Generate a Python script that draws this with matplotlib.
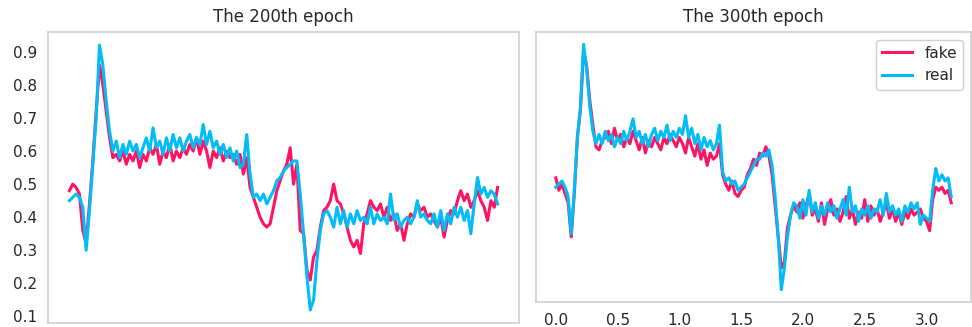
import matplotlib
matplotlib.use('Agg')
import matplotlib.pyplot as plt
import numpy as np

fake_200 = [0.48, 0.50, 0.49, 0.47, 0.36, 0.32, 0.44, 0.57, 0.72, 0.86, 0.80, 0.72, 0.64, 0.58,
            0.59, 0.57, 0.60, 0.56, 0.59, 0.57, 0.60, 0.55, 0.59, 0.57, 0.61, 0.59, 0.62, 0.56,
            0.60, 0.58, 0.62, 0.57, 0.60, 0.58, 0.61, 0.59, 0.62, 0.60, 0.64, 0.59, 0.63, 0.60,
            0.55, 0.60, 0.58, 0.61, 0.57, 0.60, 0.58, 0.59, 0.56, 0.59, 0.53, 0.58,
            0.49, 0.46, 0.43, 0.40, 0.38, 0.37, 0.38, 0.43, 0.48, 0.51, 0.54, 0.56, 0.61, 0.50,
            0.56, 0.36, 0.35, 0.24, 0.21, 0.28, 0.30, 0.37, 0.42, 0.43,
            0.45, 0.50, 0.45, 0.44, 0.41, 0.37, 0.33, 0.31, 0.33, 0.29, 0.38, 0.41, 0.45, 0.43,
            0.42, 0.44, 0.40, 0.43, 0.39, 0.41, 0.36, 0.38, 0.33, 0.38, 0.41, 0.40, 0.44, 0.42,
            0.43, 0.40, 0.41, 0.39, 0.37, 0.40, 0.34, 0.39, 0.42, 0.41, 0.45, 0.48, 0.45, 0.47,
            0.43, 0.45, 0.48, 0.45, 0.43, 0.39, 0.45, 0.43, 0.49]
real_200 = [0.45, 0.46, 0.47, 0.46, 0.43, 0.30, 0.42, 0.56, 0.70, 0.92, 0.86, 0.75, 0.66, 0.60,
            0.63, 0.58, 0.62, 0.59, 0.63, 0.60, 0.62, 0.58, 0.61, 0.64, 0.60, 0.67, 0.61, 0.63,
            0.59, 0.64, 0.60, 0.65, 0.61, 0.64, 0.60, 0.63, 0.65, 0.61, 0.64, 0.62, 0.68, 0.62,
            0.66, 0.61, 0.63, 0.59, 0.62, 0.58, 0.61, 0.57, 0.60, 0.55, 0.56, 0.65,
            0.53, 0.46, 0.47, 0.45, 0.47, 0.44, 0.46, 0.48, 0.51, 0.52, 0.54, 0.55, 0.56, 0.57,
            0.57, 0.47, 0.35, 0.22, 0.12, 0.15, 0.27, 0.36, 0.41, 0.42,
            0.40, 0.37, 0.43, 0.38, 0.42, 0.37, 0.41, 0.38, 0.42, 0.39, 0.40, 0.38, 0.43, 0.38,
            0.41, 0.39, 0.40, 0.38, 0.47, 0.39, 0.41, 0.37, 0.39, 0.40, 0.38, 0.40, 0.45, 0.40,
            0.41, 0.39, 0.38, 0.41, 0.37, 0.42, 0.36, 0.41, 0.38, 0.43, 0.40, 0.43, 0.39, 0.42,
            0.35, 0.44, 0.52, 0.47, 0.49, 0.46, 0.48, 0.47, 0.44]

fake_300 = [0.49, 0.45, 0.47, 0.44, 0.41, 0.30, 0.44, 0.62, 0.71, 0.90, 0.85, 0.74, 0.66, 0.59,
            0.58, 0.61, 0.62, 0.64, 0.60, 0.65, 0.61, 0.63, 0.59, 0.62, 0.60, 0.64, 0.61, 0.58,
            0.62, 0.57, 0.61, 0.59, 0.62, 0.60, 0.58, 0.62, 0.60, 0.63, 0.61, 0.59, 0.62, 0.60,
            0.57, 0.62, 0.59, 0.56, 0.60, 0.55, 0.58, 0.53, 0.57, 0.55, 0.56, 0.60,
            0.50, 0.47, 0.45, 0.48, 0.44, 0.43, 0.45, 0.46, 0.50, 0.52, 0.55, 0.53, 0.57, 0.56,
            0.59, 0.56, 0.50, 0.40, 0.30, 0.20, 0.22, 0.33, 0.37, 0.40,
            0.38, 0.41, 0.36, 0.40, 0.44, 0.37, 0.39, 0.35, 0.41, 0.34, 0.39, 0.42, 0.37, 0.39,
            0.35, 0.38, 0.43, 0.36, 0.39, 0.34, 0.38, 0.36, 0.42, 0.35, 0.40, 0.37, 0.39, 0.35,
            0.38, 0.41, 0.36, 0.39, 0.35, 0.38, 0.34, 0.38, 0.36, 0.39, 0.37, 0.38, 0.39, 0.36,
            0.35, 0.32, 0.42, 0.46, 0.45, 0.46, 0.44, 0.45, 0.41]
real_300 = [0.46, 0.47, 0.48, 0.46, 0.43, 0.31, 0.45, 0.62, 0.72, 0.92, 0.84, 0.72, 0.64, 0.60,
            0.63, 0.60, 0.64, 0.61, 0.63, 0.59, 0.62, 0.60, 0.64, 0.61, 0.64, 0.68, 0.62, 0.64,
            0.60, 0.63, 0.59, 0.63, 0.65, 0.61, 0.64, 0.62, 0.66, 0.61, 0.64, 0.62, 0.65, 0.63,
            0.69, 0.62, 0.65, 0.60, 0.63, 0.58, 0.62, 0.59, 0.61, 0.58, 0.60, 0.66,
            0.51, 0.48, 0.49, 0.47, 0.48, 0.45, 0.46, 0.47, 0.49, 0.51, 0.53, 0.55, 0.55, 0.57,
            0.56, 0.58, 0.53, 0.43, 0.30, 0.13, 0.20, 0.30, 0.37, 0.41,
            0.40, 0.36, 0.42, 0.37, 0.45, 0.38, 0.41, 0.36, 0.40, 0.37, 0.41, 0.38, 0.40, 0.36,
            0.39, 0.42, 0.37, 0.46, 0.38, 0.40, 0.35, 0.39, 0.37, 0.40, 0.36, 0.39, 0.38, 0.42,
            0.37, 0.44, 0.38, 0.40, 0.37, 0.39, 0.35, 0.40, 0.38, 0.41, 0.39, 0.41, 0.34, 0.37,
            0.36, 0.35, 0.45, 0.52, 0.48, 0.50, 0.48, 0.49, 0.43]

titles = ['The 200th epoch', 'The 300th epoch']
x_ticks = [0.0, 0.5, 1.0, 1.5, 2.0, 2.5, 3.0]
y_ticks = [0.1, 0.2, 0.3, 0.4, 0.5, 0.6, 0.7, 0.8, 0.9]

FAKE_C = '#ff1464'
REAL_C = '#00bdf8'

plt.rcParams['font.family'] = ['DejaVu Sans']
plt.rcParams['font.size'] = 11

fig = plt.figure(figsize=(9.72, 3.27), dpi=100)
ax1 = fig.add_axes([48/972, 4/327, 471/972, 291/327])
ax2 = fig.add_axes([536/972, 25/327, 435/972, 270/327])

for ax, fake, real, title in [(ax1, fake_200, real_200, titles[0]),
                              (ax2, fake_300, real_300, titles[1])]:
    t = np.linspace(0, 3.2, len(fake))
    ax.plot(t, fake, color=FAKE_C, lw=2.2, label='fake')
    ax.plot(t, real, color=REAL_C, lw=2.2, label='real')
    ax.set_title(title, fontsize=12, color='#262626', pad=7)
    for s in ax.spines.values():
        s.set_color('#d0d0d0')
        s.set_linewidth(1.2)
    ax.tick_params(length=0, labelsize=11, labelcolor='#262626', pad=8)

ax1.set_xticks([])
ax1.set_yticks(y_ticks)
ax1.set_yticklabels([str(v) for v in y_ticks])
ax2.set_yticks([])
ax2.set_xticks(x_ticks)
ax2.set_xticklabels([str(v) for v in x_ticks])

leg = ax2.legend(loc='upper right', fontsize=11, handlelength=2.0, framealpha=1)
leg.get_frame().set_edgecolor('#d0d0d0')
for txt in leg.get_texts():
    txt.set_color('#262626')

plt.savefig('out.png', dpi=100)
